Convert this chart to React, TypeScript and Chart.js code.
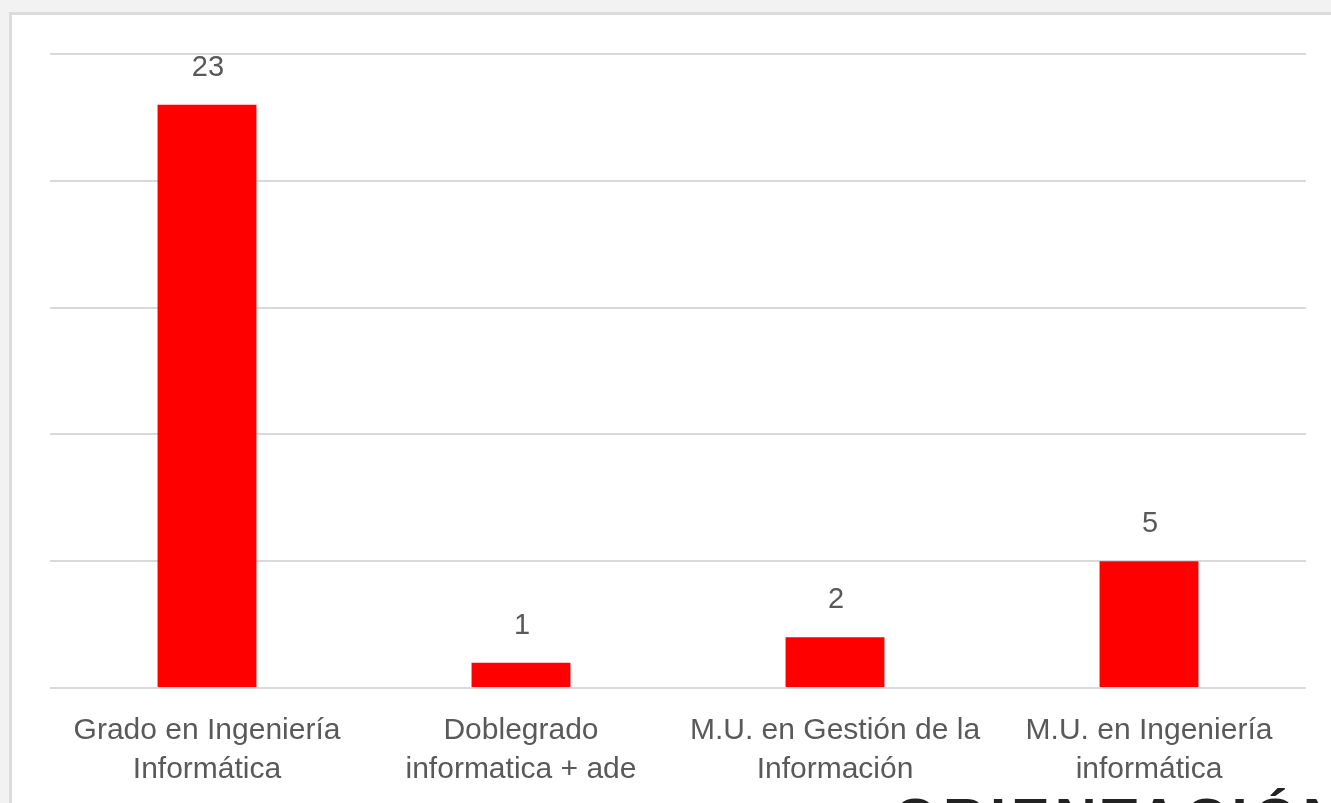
import React, { useEffect, useRef } from "react";
import { Chart, registerables } from "chart.js";

Chart.register(...registerables);

const categories: string[][] = [
  ["Grado en Ingeniería", "Informática"],
  ["Doblegrado", "informatica + ade"],
  ["M.U. en Gestión de la", "Información"],
  ["M.U. en Ingeniería", "informática"],
];
const values: number[] = [23, 1, 2, 5];
const yMax = 25;
const yStep = 5;
const footerText = "ORIENTACIÓN";

const FONT = "'Liberation Sans', Arial, sans-serif";
const TEXT = "#595959";

const dataLabels = {
  id: "dataLabels",
  afterDatasetsDraw(chart: any) {
    const ctx = chart.ctx;
    const meta = chart.getDatasetMeta(0);
    ctx.save();
    ctx.fillStyle = TEXT;
    ctx.font = `29px ${FONT}`;
    ctx.textAlign = "center";
    ctx.textBaseline = "middle";
    meta.data.forEach((bar: any, i: number) => {
      ctx.fillText(String(values[i]), bar.x + 1, bar.y - 37);
    });
    ctx.restore();
  },
};

export default function App() {
  const ref = useRef<HTMLCanvasElement | null>(null);
  useEffect(() => {
    if (!ref.current) return;
    const chart = new Chart(ref.current, {
      type: "bar",
      data: {
        labels: categories,
        datasets: [
          {
            data: values,
            backgroundColor: "#ff0000",
            barPercentage: 0.63,
            categoryPercentage: 0.5,
          },
        ],
      },
      options: {
        responsive: false,
        animation: false,
        devicePixelRatio: 1,
        layout: { padding: { left: 50, right: 25, top: 54, bottom: 0 } },
        plugins: { legend: { display: false }, tooltip: { enabled: false } },
        scales: {
          x: {
            grid: { display: false, drawTicks: false },
            border: { display: false },
            ticks: {
              color: TEXT,
              font: { family: FONT, size: 30, lineHeight: 1.3 },
              padding: 23,
              maxRotation: 0,
              autoSkip: false,
            },
            afterFit: (s: any) => {
              s.height = 115;
            },
          },
          y: {
            min: 0,
            max: yMax,
            ticks: { display: false, stepSize: yStep },
            grid: { color: "#d9d9d9", lineWidth: 2, drawTicks: false },
            border: { display: false },
            afterFit: (s: any) => {
              s.width = 0;
            },
          },
        },
      },
      plugins: [dataLabels],
    });
    return () => chart.destroy();
  }, []);

  return (
    <div
      style={{
        position: "fixed",
        left: 0,
        top: 0,
        width: 1331,
        height: 803,
        background: "#f2f2f2",
        overflow: "hidden",
      }}
    >
      <div
        style={{
          position: "absolute",
          left: 9,
          top: 12,
          width: 1340,
          height: 820,
          background: "#ffffff",
          border: "3px solid #dcdcdc",
          boxSizing: "border-box",
        }}
      />
      <canvas
        ref={ref}
        width={1331}
        height={803}
        style={{ position: "absolute", left: 0, top: 0, width: 1331, height: 803 }}
      />
      <div
        style={{
          position: "absolute",
          left: 893,
          top: 790,
          fontFamily: FONT,
          fontWeight: "bold",
          fontSize: 58,
          letterSpacing: 5,
          color: "#222222",
          whiteSpace: "nowrap",
          lineHeight: 1,
        }}
      >
        {footerText}
      </div>
    </div>
  );
}
